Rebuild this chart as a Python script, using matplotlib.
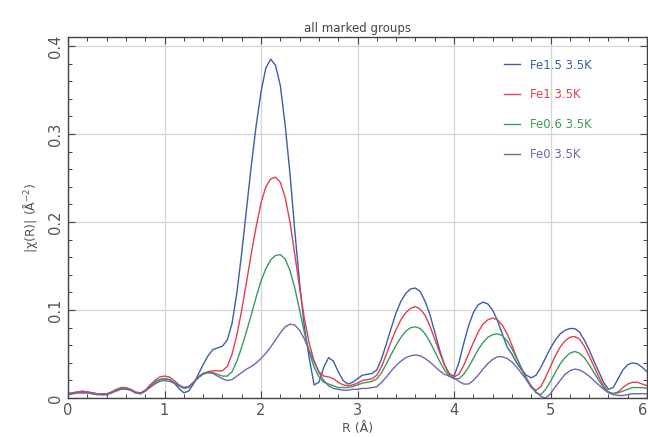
import numpy as np
import matplotlib
matplotlib.use("Agg")
import matplotlib.pyplot as plt
from matplotlib.ticker import MultipleLocator

R = np.round(np.arange(0, 6.0001, 0.05), 2)

fe15 = [0.005, 0.006, 0.007, 0.007, 0.007, 0.006, 0.005, 0.004, 0.004, 0.006,
        0.009, 0.011, 0.011, 0.009, 0.006, 0.005, 0.008, 0.013, 0.018, 0.021,
        0.022, 0.021, 0.017, 0.011, 0.006, 0.008, 0.016, 0.027, 0.038, 0.048,
        0.055, 0.057, 0.059, 0.066, 0.085, 0.120, 0.165, 0.215, 0.265, 0.310,
        0.348, 0.375, 0.385, 0.378, 0.355, 0.310, 0.255, 0.190, 0.130, 0.080,
        0.045, 0.015, 0.018, 0.035, 0.046, 0.042, 0.030, 0.020, 0.016, 0.018,
        0.022, 0.026, 0.027, 0.028, 0.032, 0.045, 0.062, 0.080, 0.097, 0.110,
        0.119, 0.124, 0.125, 0.121, 0.110, 0.095, 0.075, 0.055, 0.038, 0.027,
        0.025, 0.040, 0.062, 0.082, 0.097, 0.106, 0.109, 0.107, 0.100, 0.088,
        0.073, 0.058, 0.050, 0.040, 0.032, 0.026, 0.023, 0.026, 0.035, 0.046,
        0.057, 0.066, 0.073, 0.077, 0.079, 0.079, 0.075, 0.066, 0.055, 0.042,
        0.030, 0.018, 0.010, 0.012, 0.022, 0.032, 0.038, 0.040, 0.039, 0.035,
        0.030]

fe1 = [0.005, 0.006, 0.007, 0.008, 0.007, 0.006, 0.005, 0.005, 0.005, 0.007,
       0.010, 0.012, 0.012, 0.010, 0.007, 0.006, 0.009, 0.015, 0.020, 0.024,
       0.025, 0.024, 0.020, 0.015, 0.012, 0.013, 0.018, 0.024, 0.028, 0.030,
       0.031, 0.031, 0.031, 0.036, 0.050, 0.072, 0.100, 0.132, 0.165, 0.195,
       0.222, 0.240, 0.249, 0.251, 0.245, 0.228, 0.200, 0.163, 0.125, 0.090,
       0.062, 0.042, 0.030, 0.025, 0.024, 0.022, 0.018, 0.015, 0.014, 0.015,
       0.017, 0.020, 0.021, 0.022, 0.026, 0.036, 0.050, 0.065, 0.078, 0.089,
       0.097, 0.102, 0.104, 0.101, 0.094, 0.082, 0.067, 0.052, 0.038, 0.028,
       0.024, 0.027, 0.037, 0.050, 0.063, 0.075, 0.084, 0.089, 0.091, 0.089,
       0.083, 0.073, 0.060, 0.046, 0.033, 0.021, 0.012, 0.009, 0.013, 0.024,
       0.036, 0.048, 0.058, 0.065, 0.069, 0.070, 0.067, 0.059, 0.048, 0.036,
       0.024, 0.014, 0.007, 0.005, 0.007, 0.012, 0.016, 0.018, 0.018, 0.016,
       0.014]

fe06 = [0.004, 0.005, 0.006, 0.006, 0.006, 0.005, 0.004, 0.004, 0.004, 0.006,
        0.009, 0.011, 0.011, 0.009, 0.006, 0.005, 0.008, 0.013, 0.018, 0.021,
        0.022, 0.021, 0.018, 0.014, 0.011, 0.012, 0.017, 0.023, 0.027, 0.029,
        0.029, 0.027, 0.025, 0.025, 0.030, 0.042, 0.058, 0.076, 0.095, 0.115,
        0.133, 0.147, 0.157, 0.162, 0.163, 0.158, 0.145, 0.125, 0.100, 0.074,
        0.052, 0.035, 0.024, 0.018, 0.016, 0.014, 0.012, 0.012, 0.012, 0.013,
        0.015, 0.017, 0.018, 0.019, 0.022, 0.029, 0.039, 0.050, 0.060, 0.069,
        0.076, 0.080, 0.081, 0.079, 0.073, 0.064, 0.053, 0.042, 0.032, 0.025,
        0.022, 0.022, 0.027, 0.035, 0.045, 0.055, 0.063, 0.069, 0.072, 0.073,
        0.071, 0.065, 0.056, 0.045, 0.034, 0.023, 0.013, 0.006, 0.004, 0.010,
        0.019, 0.029, 0.039, 0.046, 0.051, 0.053, 0.051, 0.046, 0.038, 0.029,
        0.020, 0.012, 0.007, 0.005, 0.006, 0.008, 0.010, 0.012, 0.012, 0.012,
        0.011]

fe0 = [0.004, 0.005, 0.006, 0.006, 0.006, 0.005, 0.004, 0.004, 0.004, 0.006,
       0.008, 0.010, 0.010, 0.009, 0.006, 0.005, 0.008, 0.012, 0.016, 0.019,
       0.020, 0.019, 0.017, 0.014, 0.012, 0.013, 0.018, 0.024, 0.028, 0.029,
       0.028, 0.025, 0.022, 0.020, 0.021, 0.025, 0.029, 0.033, 0.036, 0.040,
       0.045, 0.051, 0.058, 0.066, 0.074, 0.081, 0.084, 0.083, 0.077, 0.067,
       0.054, 0.041, 0.029, 0.020, 0.014, 0.011, 0.010, 0.009, 0.009, 0.010,
       0.010, 0.011, 0.011, 0.012, 0.013, 0.018, 0.024, 0.031, 0.037, 0.042,
       0.046, 0.048, 0.049, 0.048, 0.045, 0.041, 0.036, 0.031, 0.027, 0.025,
       0.023, 0.019, 0.016, 0.016, 0.020, 0.026, 0.033, 0.039, 0.044, 0.047,
       0.047, 0.045, 0.041, 0.035, 0.028, 0.021, 0.014, 0.007, 0.002, 0.000,
       0.005, 0.013, 0.020, 0.027, 0.031, 0.033, 0.032, 0.029, 0.025, 0.020,
       0.015, 0.010, 0.006, 0.004, 0.003, 0.003, 0.004, 0.005, 0.005, 0.005,
       0.005]

labels = ["Fe1.5 3.5K", "Fe1 3.5K", "Fe0.6 3.5K", "Fe0 3.5K"]
colors = ["#3d5fa6", "#e0404f", "#3d9a5e", "#7466a6"]
series = [fe15, fe1, fe06, fe0]
xticks = [0, 1, 2, 3, 4, 5, 6]
yticks = [0, 0.1, 0.2, 0.3, 0.4]
yticklabels = ["0", "0.1", "0.2", "0.3", "0.4"]

fig = plt.figure(figsize=(6.48, 4.37), dpi=100)
ax = fig.add_axes([0.105, 0.089, 0.8935, 0.826])

for vals, lab, col in zip(series, labels, colors):
    ax.plot(R, vals, color=col, lw=1.0, label=lab)

ax.set_xlim(0, 6)
ax.set_ylim(0, 0.41)
ax.set_xticks(xticks)
ax.set_xticklabels([str(t) for t in xticks])
ax.xaxis.set_minor_locator(MultipleLocator(0.2))
ax.set_yticks(yticks)
ax.set_yticklabels(yticklabels, rotation=90, va="center")
ax.yaxis.set_minor_locator(MultipleLocator(0.02))
ax.tick_params(which="both", direction="in", top=True, right=True,
               colors="#444444", labelcolor="#555555", labelsize=10.5)
ax.tick_params(which="major", length=5, width=0.8)
ax.tick_params(which="minor", length=3, width=0.7)
ax.get_xticklabels()[-1].set_horizontalalignment("right")
ax.grid(True, which="major", color="#d4d4d4", lw=0.9)
for s in ax.spines.values():
    s.set_color("#444444")
    s.set_linewidth(1.0)

ax.set_title("all marked groups", fontsize=8.5, color="#444444", pad=4)
ax.set_xlabel("R (Å)", fontsize=9, color="#555555", labelpad=3)
ax.set_ylabel("|χ(R)| (Å$^{-2}$)", fontsize=9, color="#555555", labelpad=6)

leg = ax.legend(loc="upper left", bbox_to_anchor=(0.735, 0.97), frameon=False,
                handlelength=1.3, handletextpad=0.9, labelspacing=1.42,
                fontsize=8.5, labelcolor="linecolor")

fig.savefig("out.png", dpi=100)
